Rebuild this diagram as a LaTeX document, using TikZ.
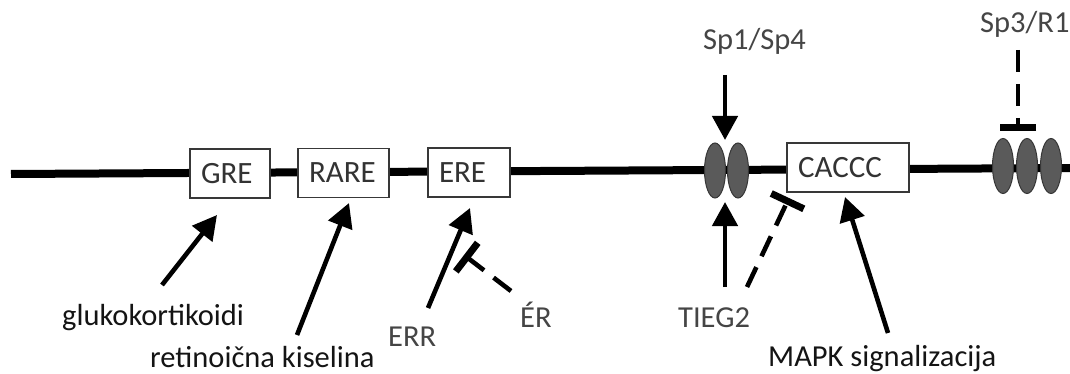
\documentclass[tikz,border=0pt]{standalone}
\usepackage{fontspec}
\setmainfont{Carlito}
\usetikzlibrary{arrows.meta,shapes.geometric}
\definecolor{lblgray}{HTML}{454545}
\definecolor{boxtext}{HTML}{333333}
\definecolor{sitefill}{HTML}{5A5A5A}
\definecolor{siteline}{HTML}{363636}
\begin{document}
\begin{tikzpicture}[x=1pt,y=-1pt,
  dna/.style={line width=8pt, black},
  elembox/.style={draw=black!78, line width=1.6pt, fill=white, minimum height=49pt,
    inner xsep=11pt, inner ysep=0pt, align=left, text=boxtext,
    font=\fontsize{31}{36}\selectfont},
  site/.style={ellipse, draw=siteline, line width=1pt, fill=sitefill,
    minimum width=21pt, minimum height=55pt, inner sep=0pt},
  lbl/.style={inner sep=0pt, anchor=base west, font=\fontsize{30.5}{36}\selectfont},
  lgray/.style={lbl, text=lblgray},
  ldark/.style={lbl, text=black!92},
  act/.style={line width=4.6pt, -{Triangle[length=24pt,width=25pt]}},
  inh/.style={line width=4.6pt, dash pattern=on 22pt off 12pt,
    -{Bar[width=36pt,line width=7pt]}}
]
\useasboundingbox (0,0) rectangle (1070,374);

% DNA line
\coordinate (dnaL) at (11,174);
\coordinate (dnaR) at (1070,168);
\draw[dna] (dnaL) -- (dnaR);

% elements
\node[elembox, text width=58pt] (gre) at (230,173.5) {GRE};
\node[elembox, text width=69pt] (rare) at (343.5,173) {RARE};
\node[elembox, text width=60pt] (ere) at (469,172.5) {ERE};
\node[elembox, text width=100pt] (caccc) at (848,167.5) {CACCC};

% Sp sites
\node[site] (s1) at (715,170.5) {};
\node[site] (s2) at (738,170.5) {};
\node[site] (s3) at (1003,166) {};
\node[site] (s4) at (1027,166) {};
\node[site] (s5) at (1051,166) {};

% labels
\node[lgray] (sp14) at (703,50) {Sp1/Sp4};
\node[lgray] (sp3) at (980,33) {Sp3/R1};
\node[ldark] (glu) at (62,325) {glukokortikoidi};
\node[ldark] (ret) at (150,367) {retinoična kiselina};
\node[lgray] (err) at (388,346) {ERR};
\node[lgray] (er) at (520,327) {ÉR};
\node[lgray] (tieg) at (678,327) {TIEG2};
\node[ldark] (mapk) at (768,366) {MAPK signalizacija};

% connector ends
\coordinate (gluT) at (162,285);  \coordinate (gluH) at (217,215);
\coordinate (retT) at (297,335);  \coordinate (retH) at (349,203);
\coordinate (errT) at (428,308);  \coordinate (errH) at (470,208);
\coordinate (erT) at (511,291);   \coordinate (erH) at (464,255);
\coordinate (spT) at (725,75);    \coordinate (spH) at (725,140);
\coordinate (tgT) at (725,287);   \coordinate (tgH) at (725,202);
\coordinate (tiT) at (747,287);   \coordinate (tiH) at (789,198);
\coordinate (mkT) at (888,333);   \coordinate (mkH) at (845,197);
\coordinate (s3T) at (1018,50);   \coordinate (s3H) at (1018,131);

\draw[act] (gluT) -- (gluH);
\draw[act] (retT) -- (retH);
\draw[act] (errT) -- (errH);
\draw[inh] (erT) -- (erH);
\draw[act] (spT) -- (spH);
\draw[act] (tgT) -- (tgH);
\draw[inh] (tiT) -- (tiH);
\draw[act] (mkT) -- (mkH);
\draw[inh] (s3T) -- (s3H);
\end{tikzpicture}
\end{document}
